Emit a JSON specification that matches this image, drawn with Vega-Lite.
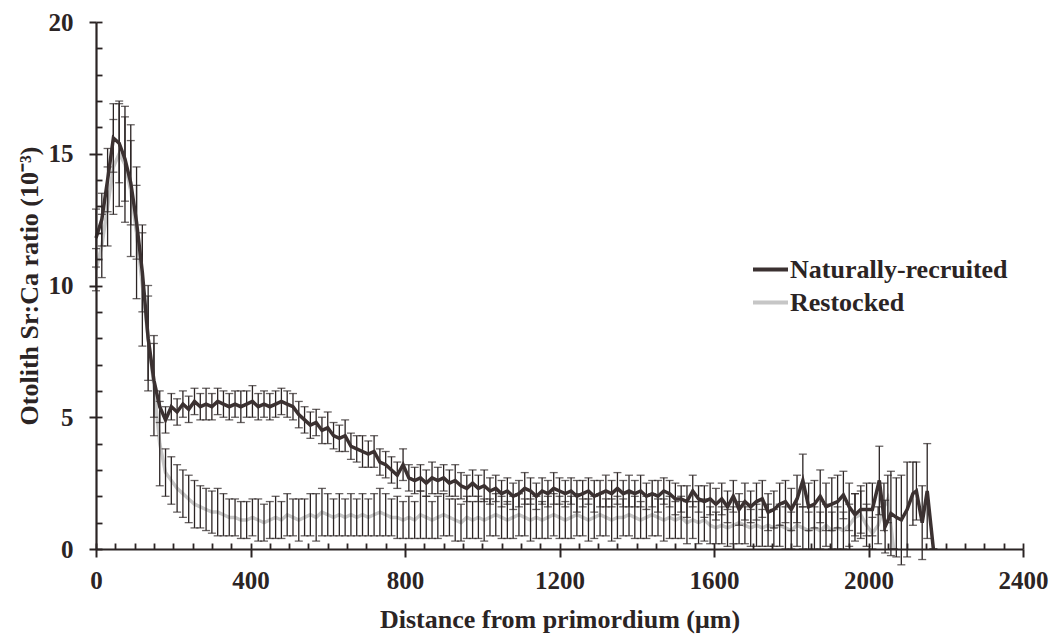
{
  "$schema": "https://vega.github.io/schema/vega-lite/v6.json",
  "autosize": "none",
  "width": 927,
  "height": 527,
  "padding": {"left": 96, "top": 22, "right": 26, "bottom": 90},
  "background": "#ffffff",
  "config": {
    "view": {"stroke": null},
    "font": "Liberation Serif",
    "axis": {"grid": false, "domainColor": "#2b2424", "tickColor": "#2b2424", "labelColor": "#2b2424", "titleColor": "#2b2424", "labelFont": "Liberation Serif", "titleFont": "Liberation Serif", "labelFontWeight": "bold", "titleFontWeight": "bold"},
    "legend": {"labelFont": "Liberation Serif", "labelFontWeight": "bold", "labelColor": "#2b2424"}
  },
  "datasets": {
    "nat": [
      {"x":0,"y":11.8,"e":1.1},{"x":15,"y":12.5,"e":1.0},{"x":30,"y":14.0,"e":1.2},{"x":45,"y":15.6,"e":1.3},{"x":60,"y":15.4,"e":1.5},{"x":75,"y":14.8,"e":1.6},{"x":90,"y":13.9,"e":1.6},{"x":105,"y":12.4,"e":1.4},{"x":120,"y":10.5,"e":1.5},{"x":135,"y":8.0,"e":1.6},{"x":150,"y":6.4,"e":1.4},{"x":165,"y":5.4,"e":0.6},{"x":180,"y":4.9,"e":0.5},{"x":195,"y":5.4,"e":0.5},{"x":210,"y":5.2,"e":0.5},{"x":225,"y":5.5,"e":0.5},{"x":240,"y":5.3,"e":0.5},{"x":255,"y":5.6,"e":0.5},{"x":270,"y":5.4,"e":0.5},{"x":285,"y":5.5,"e":0.6},{"x":300,"y":5.4,"e":0.5},{"x":315,"y":5.6,"e":0.5},{"x":330,"y":5.5,"e":0.5},{"x":345,"y":5.4,"e":0.5},{"x":360,"y":5.5,"e":0.5},{"x":375,"y":5.4,"e":0.6},{"x":390,"y":5.5,"e":0.5},{"x":405,"y":5.6,"e":0.6},{"x":420,"y":5.4,"e":0.5},{"x":435,"y":5.5,"e":0.5},{"x":450,"y":5.4,"e":0.5},{"x":465,"y":5.5,"e":0.5},{"x":480,"y":5.6,"e":0.5},{"x":495,"y":5.5,"e":0.5},{"x":510,"y":5.4,"e":0.5},{"x":525,"y":5.1,"e":0.5},{"x":540,"y":4.9,"e":0.5},{"x":555,"y":4.7,"e":0.5},{"x":570,"y":4.8,"e":0.5},{"x":585,"y":4.5,"e":0.5},{"x":600,"y":4.6,"e":0.6},{"x":615,"y":4.3,"e":0.5},{"x":630,"y":4.2,"e":0.5},{"x":645,"y":4.3,"e":0.6},{"x":660,"y":3.9,"e":0.5},{"x":675,"y":3.8,"e":0.5},{"x":690,"y":3.7,"e":0.6},{"x":705,"y":3.6,"e":0.5},{"x":720,"y":3.7,"e":0.6},{"x":735,"y":3.3,"e":0.5},{"x":750,"y":3.2,"e":0.5},{"x":765,"y":3.0,"e":0.5},{"x":780,"y":2.8,"e":0.5},{"x":795,"y":3.2,"e":0.6},{"x":810,"y":2.7,"e":0.5},{"x":825,"y":2.6,"e":0.5},{"x":840,"y":2.7,"e":0.5},{"x":855,"y":2.5,"e":0.5},{"x":870,"y":2.7,"e":0.6},{"x":885,"y":2.6,"e":0.5},{"x":900,"y":2.7,"e":0.5},{"x":915,"y":2.5,"e":0.5},{"x":930,"y":2.6,"e":0.6},{"x":945,"y":2.4,"e":0.5},{"x":960,"y":2.3,"e":0.5},{"x":975,"y":2.5,"e":0.5},{"x":990,"y":2.3,"e":0.5},{"x":1005,"y":2.4,"e":0.6},{"x":1020,"y":2.2,"e":0.5},{"x":1035,"y":2.3,"e":0.5},{"x":1050,"y":2.1,"e":0.5},{"x":1065,"y":2.2,"e":0.5},{"x":1080,"y":2.0,"e":0.5},{"x":1095,"y":2.1,"e":0.5},{"x":1110,"y":2.3,"e":0.6},{"x":1125,"y":2.2,"e":0.5},{"x":1140,"y":2.0,"e":0.5},{"x":1155,"y":2.2,"e":0.5},{"x":1170,"y":2.1,"e":0.5},{"x":1185,"y":2.3,"e":0.6},{"x":1200,"y":2.2,"e":0.5},{"x":1215,"y":2.1,"e":0.5},{"x":1230,"y":2.2,"e":0.5},{"x":1245,"y":2.0,"e":0.6},{"x":1260,"y":2.1,"e":0.5},{"x":1275,"y":2.2,"e":0.5},{"x":1290,"y":2.0,"e":0.6},{"x":1305,"y":2.1,"e":0.5},{"x":1320,"y":2.2,"e":0.6},{"x":1335,"y":2.1,"e":0.5},{"x":1350,"y":2.3,"e":0.6},{"x":1365,"y":2.1,"e":0.5},{"x":1380,"y":2.2,"e":0.6},{"x":1395,"y":2.1,"e":0.5},{"x":1410,"y":2.2,"e":0.6},{"x":1425,"y":2.0,"e":0.5},{"x":1440,"y":2.1,"e":0.5},{"x":1455,"y":2.0,"e":0.6},{"x":1470,"y":2.2,"e":0.5},{"x":1485,"y":2.1,"e":0.5},{"x":1500,"y":1.9,"e":0.6},{"x":1515,"y":1.9,"e":0.5},{"x":1530,"y":1.8,"e":0.6},{"x":1545,"y":2.2,"e":0.6},{"x":1560,"y":1.9,"e":0.5},{"x":1575,"y":1.8,"e":0.6},{"x":1590,"y":1.9,"e":0.6},{"x":1605,"y":1.7,"e":0.6},{"x":1620,"y":1.9,"e":0.6},{"x":1635,"y":1.6,"e":0.6},{"x":1650,"y":2.0,"e":0.6},{"x":1665,"y":1.5,"e":0.6},{"x":1680,"y":1.8,"e":0.7},{"x":1695,"y":1.6,"e":0.6},{"x":1710,"y":1.8,"e":0.7},{"x":1725,"y":1.9,"e":0.7},{"x":1740,"y":1.4,"e":0.7},{"x":1755,"y":1.5,"e":0.7},{"x":1770,"y":1.7,"e":0.8},{"x":1785,"y":1.8,"e":0.8},{"x":1800,"y":1.5,"e":0.8},{"x":1815,"y":1.9,"e":0.9},{"x":1830,"y":2.6,"e":1.0},{"x":1845,"y":1.6,"e":0.9},{"x":1860,"y":1.7,"e":0.9},{"x":1875,"y":2.0,"e":1.0},{"x":1890,"y":1.6,"e":0.9},{"x":1905,"y":1.7,"e":1.0},{"x":1920,"y":1.8,"e":1.0},{"x":1935,"y":2.05,"e":0.9},{"x":1950,"y":1.6,"e":0.9},{"x":1965,"y":1.3,"e":0.8},{"x":1980,"y":1.5,"e":0.9},{"x":1995,"y":1.5,"e":1.0},{"x":2010,"y":1.5,"e":1.0},{"x":2028,"y":2.6,"e":1.3},{"x":2043,"y":0.85,"e":1.0},{"x":2058,"y":1.35,"e":1.6},{"x":2072,"y":1.2,"e":1.5},{"x":2085,"y":1.1,"e":1.7},{"x":2100,"y":1.5,"e":1.8},{"x":2115,"y":2.1,"e":1.2},{"x":2124,"y":2.2,"e":1.1},{"x":2139,"y":1.0,"e":1.4},{"x":2152,"y":2.2,"e":1.8},{"x":2168,"y":0.0,"e":null}
    ],
    "rest": [
      {"x":0,"y":10.6,"e":0.8},{"x":15,"y":11.5,"e":1.2},{"x":30,"y":13.0,"e":1.5},{"x":45,"y":14.5,"e":1.8},{"x":60,"y":15.0,"e":2.0},{"x":75,"y":14.6,"e":2.2},{"x":90,"y":13.6,"e":2.5},{"x":105,"y":12.0,"e":2.5},{"x":120,"y":10.0,"e":2.3},{"x":135,"y":8.0,"e":2.0},{"x":150,"y":6.2,"e":1.9},{"x":165,"y":4.0,"e":1.6},{"x":180,"y":2.9,"e":0.9},{"x":195,"y":2.6,"e":0.9},{"x":210,"y":2.3,"e":0.9},{"x":225,"y":2.1,"e":0.9},{"x":240,"y":1.9,"e":0.9},{"x":255,"y":1.7,"e":0.9},{"x":270,"y":1.6,"e":0.8},{"x":285,"y":1.5,"e":0.8},{"x":300,"y":1.4,"e":0.8},{"x":315,"y":1.4,"e":0.9},{"x":330,"y":1.3,"e":0.8},{"x":345,"y":1.2,"e":0.7},{"x":360,"y":1.2,"e":0.7},{"x":375,"y":1.1,"e":0.7},{"x":390,"y":1.1,"e":0.7},{"x":405,"y":1.2,"e":0.7},{"x":420,"y":1.1,"e":0.8},{"x":435,"y":1.0,"e":0.7},{"x":450,"y":1.1,"e":0.7},{"x":465,"y":1.2,"e":0.8},{"x":480,"y":1.1,"e":0.7},{"x":495,"y":1.3,"e":0.8},{"x":510,"y":1.2,"e":0.7},{"x":525,"y":1.1,"e":0.8},{"x":540,"y":1.2,"e":0.7},{"x":555,"y":1.3,"e":0.8},{"x":570,"y":1.2,"e":0.9},{"x":585,"y":1.4,"e":0.9},{"x":600,"y":1.3,"e":0.8},{"x":615,"y":1.2,"e":0.7},{"x":630,"y":1.3,"e":0.8},{"x":645,"y":1.2,"e":0.7},{"x":660,"y":1.3,"e":0.8},{"x":675,"y":1.2,"e":0.7},{"x":690,"y":1.3,"e":0.8},{"x":705,"y":1.2,"e":0.7},{"x":720,"y":1.3,"e":0.8},{"x":735,"y":1.4,"e":0.9},{"x":750,"y":1.3,"e":0.8},{"x":765,"y":1.2,"e":0.7},{"x":780,"y":1.2,"e":0.8},{"x":795,"y":1.1,"e":0.7},{"x":810,"y":1.2,"e":0.8},{"x":825,"y":1.1,"e":0.7},{"x":840,"y":1.3,"e":0.9},{"x":855,"y":1.2,"e":0.8},{"x":870,"y":1.1,"e":0.7},{"x":885,"y":1.2,"e":0.8},{"x":900,"y":1.3,"e":0.8},{"x":915,"y":1.2,"e":0.7},{"x":930,"y":1.1,"e":0.8},{"x":945,"y":1.0,"e":0.7},{"x":960,"y":1.2,"e":0.8},{"x":975,"y":1.1,"e":0.7},{"x":990,"y":1.2,"e":0.8},{"x":1005,"y":1.1,"e":0.8},{"x":1020,"y":1.2,"e":0.7},{"x":1035,"y":1.3,"e":0.8},{"x":1050,"y":1.2,"e":0.8},{"x":1065,"y":1.1,"e":0.7},{"x":1080,"y":1.2,"e":0.8},{"x":1095,"y":1.3,"e":0.8},{"x":1110,"y":1.2,"e":0.7},{"x":1125,"y":1.1,"e":0.8},{"x":1140,"y":1.2,"e":0.8},{"x":1155,"y":1.1,"e":0.7},{"x":1170,"y":1.2,"e":0.8},{"x":1185,"y":1.3,"e":0.8},{"x":1200,"y":1.2,"e":0.8},{"x":1215,"y":1.1,"e":0.7},{"x":1230,"y":1.2,"e":0.8},{"x":1245,"y":1.3,"e":0.8},{"x":1260,"y":1.2,"e":0.7},{"x":1275,"y":1.1,"e":0.8},{"x":1290,"y":1.2,"e":0.8},{"x":1305,"y":1.3,"e":0.8},{"x":1320,"y":1.2,"e":0.7},{"x":1335,"y":1.1,"e":0.8},{"x":1350,"y":1.2,"e":0.8},{"x":1365,"y":1.2,"e":0.7},{"x":1380,"y":1.3,"e":0.8},{"x":1395,"y":1.2,"e":0.8},{"x":1410,"y":1.1,"e":0.7},{"x":1425,"y":1.2,"e":0.8},{"x":1440,"y":1.3,"e":0.8},{"x":1455,"y":1.2,"e":0.7},{"x":1470,"y":1.1,"e":0.8},{"x":1485,"y":1.2,"e":0.8},{"x":1500,"y":1.1,"e":0.7},{"x":1515,"y":1.2,"e":0.8},{"x":1530,"y":1.0,"e":0.8},{"x":1545,"y":1.1,"e":0.7},{"x":1560,"y":1.0,"e":0.8},{"x":1575,"y":1.1,"e":0.8},{"x":1590,"y":0.9,"e":0.7},{"x":1605,"y":0.8,"e":0.6},{"x":1620,"y":0.9,"e":0.7},{"x":1635,"y":0.8,"e":0.7},{"x":1650,"y":0.9,"e":0.7},{"x":1665,"y":1.0,"e":0.8},{"x":1680,"y":0.9,"e":0.7},{"x":1695,"y":0.8,"e":0.7},{"x":1710,"y":0.9,"e":0.8},{"x":1725,"y":0.8,"e":0.7},{"x":1740,"y":0.9,"e":0.8},{"x":1755,"y":0.8,"e":0.7},{"x":1770,"y":0.9,"e":0.8},{"x":1785,"y":0.8,"e":0.8},{"x":1800,"y":0.7,"e":0.7},{"x":1815,"y":0.9,"e":0.8},{"x":1830,"y":0.8,"e":0.8},{"x":1845,"y":0.7,"e":0.7},{"x":1860,"y":0.8,"e":0.8},{"x":1875,"y":0.7,"e":0.7},{"x":1890,"y":0.9,"e":0.8},{"x":1905,"y":0.7,"e":0.7},{"x":1920,"y":0.8,"e":0.8},{"x":1935,"y":0.7,"e":0.7},{"x":1950,"y":0.9,"e":0.8},{"x":1965,"y":1.2,"e":0.9},{"x":1980,"y":1.3,"e":0.9},{"x":1995,"y":0.9,"e":0.8},{"x":2010,"y":0.6,"e":0.6},{"x":2025,"y":0.9,"e":0.7},{"x":2040,"y":1.6,"e":0.9},{"x":2050,"y":1.9,"e":0.9},{"x":2065,"y":0.0,"e":null}
    ]
  },
  "resolve": {"axis": {"x": "independent", "y": "independent"}},
  "layer": [
    {
      "data": {"name": "nat"},
      "mark": {"type": "point", "opacity": 0},
      "encoding": {
        "x": {"field": "x", "type": "quantitative", "scale": {"domain": [0, 2400], "nice": false}, "axis": {"orient": "bottom", "zindex": 5, "values": [0,50,100,150,200,250,300,350,400,450,500,550,600,650,700,750,800,850,900,950,1000,1050,1100,1150,1200,1250,1300,1350,1400,1450,1500,1550,1600,1650,1700,1750,1800,1850,1900,1950,2000,2050,2100,2150,2200,2250,2300,2350,2400], "tickSize": -6, "tickWidth": 1.8, "labels": false, "domain": false, "title": null}},
        "y": {"field": "y", "type": "quantitative", "scale": {"domain": [0, 20], "nice": false}, "axis": {"orient": "left", "zindex": 5, "values": [0,1,2,3,4,5,6,7,8,9,10,11,12,13,14,15,16,17,18,19,20], "tickSize": -6, "tickWidth": 1.8, "labels": false, "domain": false, "title": null}}
      }
    },
    {
      "data": {"name": "rest"},
      "mark": {"type": "line", "strokeWidth": 3.5},
      "encoding": {
        "x": {"field": "x", "type": "quantitative", "axis": null},
        "y": {"field": "y", "type": "quantitative", "axis": null},
        "color": {"datum": "Restocked", "type": "nominal"}
      }
    },
    {
      "data": {"name": "rest"},
      "mark": {"type": "errorbar", "ticks": {"size": 8, "thickness": 1.3, "color": "#2b2424"}, "rule": {"strokeWidth": 1.3, "color": "#2b2424"}},
      "encoding": {
        "x": {"field": "x", "type": "quantitative", "axis": null},
        "y": {"field": "y", "type": "quantitative", "axis": null},
        "yError": {"field": "e"}
      }
    },
    {
      "data": {"name": "nat"},
      "mark": {"type": "errorbar", "ticks": {"size": 8, "thickness": 1.3, "color": "#2b2424"}, "rule": {"strokeWidth": 1.3, "color": "#2b2424"}},
      "encoding": {
        "x": {"field": "x", "type": "quantitative", "axis": null},
        "y": {"field": "y", "type": "quantitative", "axis": null},
        "yError": {"field": "e"}
      }
    },
    {
      "data": {"name": "nat"},
      "mark": {"type": "line", "strokeWidth": 3.5},
      "encoding": {
        "x": {"field": "x", "type": "quantitative", "axis": {"orient": "bottom", "zindex": 5, "values": [0, 400, 800, 1200, 1600, 2000, 2400], "format": "d", "tickSize": 8, "tickWidth": 2, "domainWidth": 2.2, "labelFontSize": 25, "labelPadding": 11, "labelOverlap": false, "labelFlush": false, "title": "Distance from primordium (μm)", "titleFontSize": 26, "titlePadding": 13}},
        "y": {"field": "y", "type": "quantitative", "axis": {"orient": "left", "zindex": 5, "values": [0, 5, 10, 15, 20], "tickSize": 7, "tickWidth": 2, "domainWidth": 2.2, "labelFontSize": 25, "labelPadding": 16, "labelFlush": false, "title": "Otolith Sr:Ca ratio (10⁻³)", "titleFontSize": 26, "titlePadding": 6}},
        "color": {
          "datum": "Naturally-recruited",
          "type": "nominal",
          "scale": {"domain": ["Naturally-recruited", "Restocked"], "range": ["#3b3131", "#c6c6c6"]},
          "legend": {"title": null, "orient": "none", "legendX": 655, "legendY": 228, "padding": 0, "symbolType": "stroke", "symbolSize": 1225, "symbolStrokeWidth": 4, "labelFontSize": 26, "labelOffset": 0, "labelLimit": 0, "rowPadding": 0}
        }
      }
    }
  ]
}
